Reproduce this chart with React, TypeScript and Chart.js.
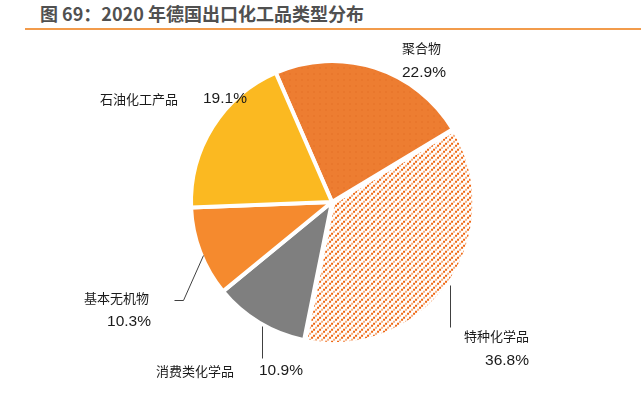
import React, { useEffect, useRef } from "react";
import { Chart, registerables } from "chart.js";

Chart.register(...registerables);

const categories = ["聚合物", "特种化学品", "消费类化学品", "基本无机物", "石油化工产品"];
const shares = [22.9, 36.8, 10.9, 10.3, 19.1];
const pctLabels = ["22.9%", "36.8%", "10.9%", "10.3%", "19.1%"];

const TITLE = "图 69：2020 年德国出口化工品类型分布";

// label layout (page/canvas coords), not data
const labelLayout = [
  { name: { x: 402, y: 48, align: "left" }, pct: { x: 402, y: 73, align: "left" }, leader: null },
  { name: { x: 529, y: 336, align: "right" }, pct: { x: 529, y: 361, align: "right" }, leader: [[450, 285], [450, 327]] },
  { name: { x: 156, y: 371, align: "left" }, pct: { x: 259, y: 371, align: "left" }, leader: [[262, 326], [262, 358]] },
  { name: { x: 149, y: 298, align: "right" }, pct: { x: 151, y: 322, align: "right" }, leader: [[203, 255], [183, 300], [174, 300]] },
  { name: { x: 100, y: 99, align: "left" }, pct: { x: 203, y: 99, align: "left" }, leader: null },
];

function makeSpecialtyPattern(): CanvasPattern | string {
  const c = document.createElement("canvas");
  c.width = 6;
  c.height = 6;
  const g = c.getContext("2d");
  if (!g) return "#F5A46A";
  g.fillStyle = "#ffffff";
  g.fillRect(0, 0, 6, 6);
  g.fillStyle = "#EF6610";
  g.fillRect(0, 4, 2, 2);
  g.fillRect(4, 0, 2, 2);
  g.fillStyle = "#F6AC7C";
  g.fillRect(2, 2, 2, 2);
  const p = g.createPattern(c, "repeat");
  return p || "#F5A46A";
}

function makePolymerPattern(): CanvasPattern | string {
  const c = document.createElement("canvas");
  c.width = 6;
  c.height = 6;
  const g = c.getContext("2d");
  if (!g) return "#ED7D31";
  g.fillStyle = "#ED7D31";
  g.fillRect(0, 0, 6, 6);
  g.fillStyle = "#E9772C";
  g.fillRect(1, 1, 2, 2);
  const p = g.createPattern(c, "repeat");
  return p || "#ED7D31";
}

const labelPlugin = {
  id: "pieLabels",
  afterDraw(chart: any) {
    const ctx = chart.ctx as CanvasRenderingContext2D;
    ctx.save();
    labelLayout.forEach((lay, i) => {
      if (lay.leader) {
        ctx.strokeStyle = "#404040";
        ctx.lineWidth = 1;
        ctx.beginPath();
        lay.leader.forEach((pt, k) => {
          if (k === 0) ctx.moveTo(pt[0] + 0.5, pt[1] + 0.5);
          else ctx.lineTo(pt[0] + 0.5, pt[1] + 0.5);
        });
        ctx.stroke();
      }
      ctx.fillStyle = "#1a1a1a";
      ctx.textBaseline = "middle";
      ctx.font = '13px "Noto Sans CJK SC", sans-serif';
      ctx.textAlign = lay.name.align as CanvasTextAlign;
      ctx.fillText(categories[i], lay.name.x, lay.name.y);
      ctx.font = '15.5px "Liberation Sans", Arial, sans-serif';
      ctx.textAlign = lay.pct.align as CanvasTextAlign;
      ctx.fillText(pctLabels[i], lay.pct.x, lay.pct.y);
    });
    ctx.restore();
  },
};

export default function App() {
  const ref = useRef<HTMLCanvasElement | null>(null);
  useEffect(() => {
    if (!ref.current) return;
    const colors = [makePolymerPattern(), makeSpecialtyPattern(), "#7F7F7F", "#F58A2E", "#FBB921"];
    const chart = new Chart(ref.current, {
      type: "pie",
      data: {
        labels: categories,
        datasets: [
          {
            data: shares,
            backgroundColor: colors as any,
            borderColor: "#ffffff",
            borderWidth: 4,
            offset: [0, 5, 0, 0, 0],
          },
        ],
      },
      options: {
        responsive: false,
        animation: false,
        rotation: -23.5,
        layout: { padding: { left: 186.5, top: 56.5, right: 163.5, bottom: 64.5 } },
        plugins: {
          legend: { display: false },
          tooltip: { enabled: false },
          title: { display: false },
        },
      },
      plugins: [labelPlugin],
    });
    return () => chart.destroy();
  }, []);

  return (
    <div style={{ position: "absolute", left: 0, top: 0, width: 641, height: 412, background: "#fff" }}>
      <div
        style={{
          position: "absolute",
          left: 40,
          top: 3,
          fontFamily: '"Noto Sans CJK SC", sans-serif',
          fontWeight: 700,
          fontSize: 18,
          lineHeight: "20px",
          color: "#505050",
          whiteSpace: "nowrap",
        }}
      >
        {TITLE}
      </div>
      <div style={{ position: "absolute", left: 25, top: 28, width: 616, height: 2, background: "#F29B4B" }} />
      <canvas ref={ref} width={641} height={412} style={{ position: "absolute", left: 0, top: 0 }} />
    </div>
  );
}
